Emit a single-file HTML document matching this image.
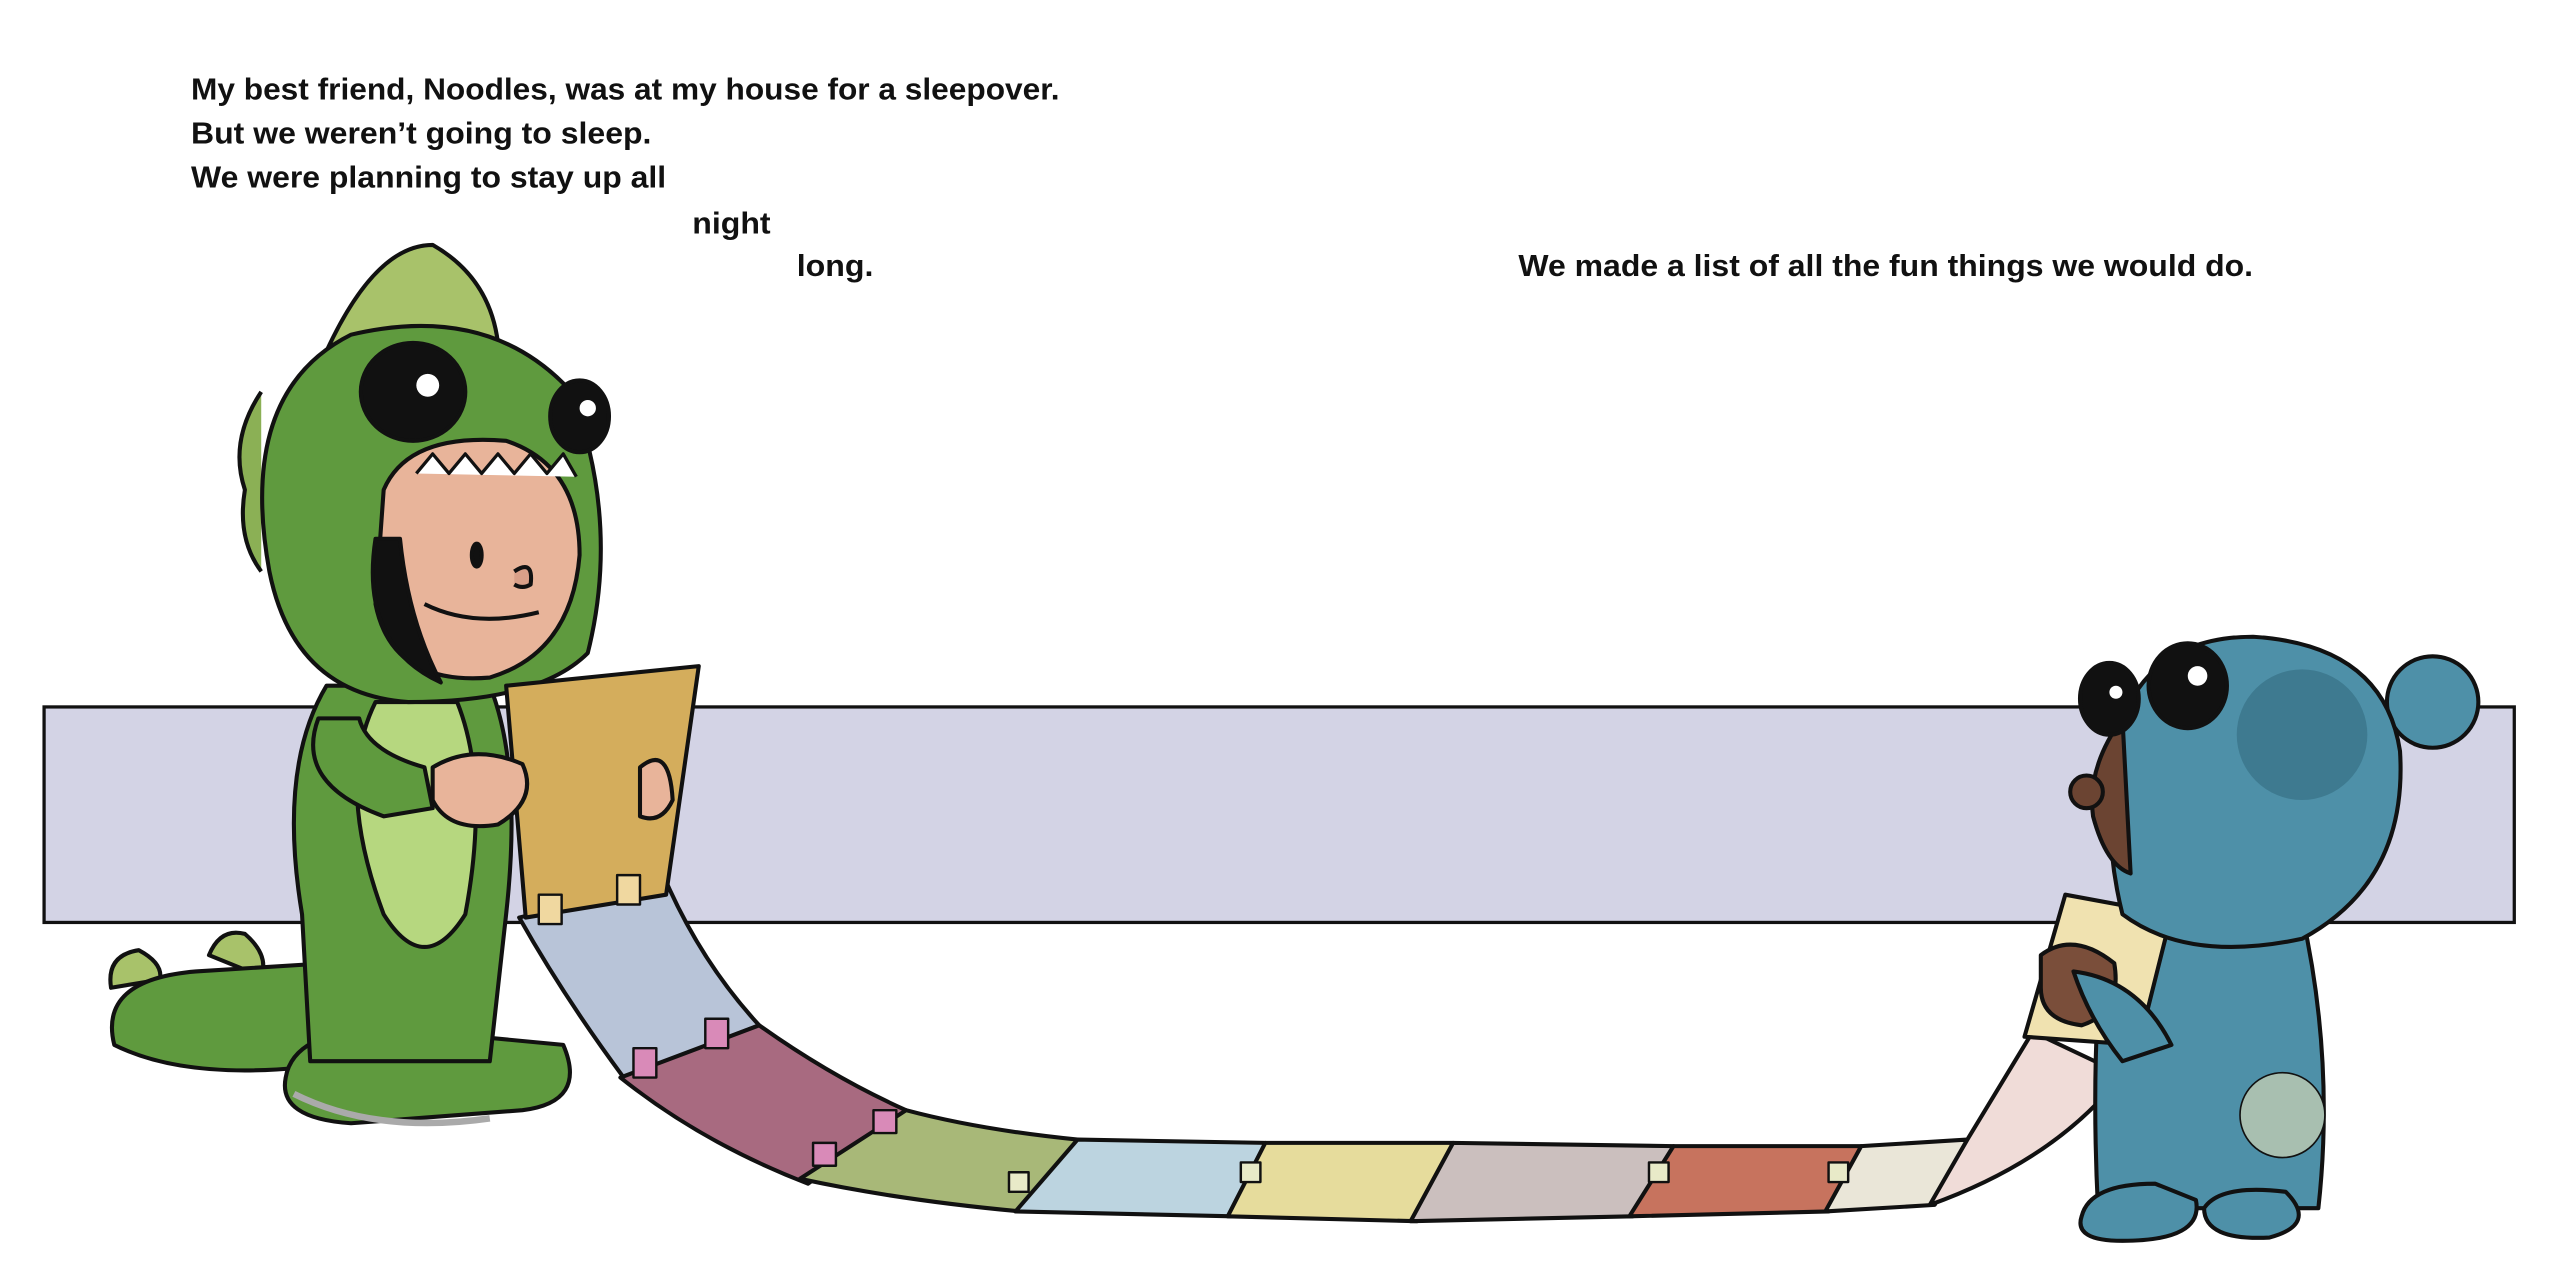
<!DOCTYPE html>
<html><head><meta charset="utf-8"><style>
html,body{margin:0;padding:0;background:#fff;width:2560px;height:1280px;overflow:hidden}
svg{display:block}
text{font-family:"Liberation Sans",sans-serif;font-weight:bold;font-size:18.5px;fill:#111}
</style></head><body>
<svg width="2560" height="1280" viewBox="0 0 1568 784" xmlns="http://www.w3.org/2000/svg">
<rect x="27" y="433" width="1513" height="132" fill="#d3d3e5" stroke="#111" stroke-width="2"/>
<text x="117" y="61" textLength="532" lengthAdjust="spacingAndGlyphs">My best friend, Noodles, was at my house for a sleepover.</text>
<text x="117" y="88" textLength="282" lengthAdjust="spacingAndGlyphs">But we weren’t going to sleep.</text>
<text x="117" y="115" textLength="291" lengthAdjust="spacingAndGlyphs">We were planning to stay up all</text>
<text x="424" y="143" textLength="48" lengthAdjust="spacingAndGlyphs">night</text>
<text x="488" y="169" textLength="47" lengthAdjust="spacingAndGlyphs">long.</text>
<text x="930" y="169" textLength="450" lengthAdjust="spacingAndGlyphs">We made a list of all the fun things we would do.</text>
<g stroke="#111" stroke-width="2.5" stroke-linejoin="round">
<!-- dino tail & feet -->
<path d="M68,605 Q65,585 85,582 Q100,590 98,600Z M128,585 Q135,568 150,572 Q165,585 160,598Z" fill="#a8c26a"/>
<path d="M70,640 Q60,600 120,595 L200,590 L215,650 Q120,665 70,640Z" fill="#5f9a3e"/>
<path d="M175,660 Q180,630 240,630 L345,640 Q360,675 320,680 L215,688 Q170,685 175,660Z" fill="#5f9a3e"/>
<path d="M180,670 Q230,695 300,685" fill="none" stroke="#aaa" stroke-width="4"/>
<!-- body -->
<path d="M200,420 Q170,470 185,560 L190,650 L300,650 L310,560 Q320,470 300,420Z" fill="#5f9a3e"/>
<path d="M230,430 Q205,480 235,560 Q260,600 285,560 Q300,480 280,430Z" fill="#b6d77f"/>
<path d="M195,440 Q180,480 235,500 L265,495 L260,470 Q225,460 220,440Z" fill="#5f9a3e"/>
<!-- head hood -->
<path d="M200,215 Q230,150 265,150 Q300,170 305,210Z" fill="#a8c26a"/>
<path d="M160,240 Q140,270 150,300 Q145,330 160,350" fill="#8bb055"/>
<path d="M165,350 Q145,240 215,205 Q300,185 350,240 Q380,320 360,400 Q330,430 250,430 Q180,425 165,350Z" fill="#5f9a3e"/>
<path d="M235,300 Q250,265 310,270 Q355,285 355,340 Q350,400 300,415 Q240,420 230,370Z" fill="#e8b49a"/>
<path d="M230,330 Q220,395 270,418 Q250,380 245,330Z" fill="#111"/>
<path d="M255,290 l10,-12 10,12 10,-12 10,12 10,-12 10,12 10,-12 10,12 10,-12 8,14" fill="#fff" stroke-width="2"/>
<ellipse cx="253" cy="240" rx="32" ry="30" fill="#111"/>
<ellipse cx="355" cy="255" rx="18" ry="22" fill="#111"/>
<circle cx="262" cy="236" r="7" fill="#fff" stroke="none"/>
<circle cx="360" cy="250" r="5" fill="#fff" stroke="none"/>
<path d="M260,370 Q290,385 330,375" fill="none"/>
<ellipse cx="292" cy="340" rx="3" ry="7" fill="#111"/>
<path d="M315,350 q12,-8 10,8 q-5,3 -10,0" fill="#d9a089"/>
<!-- paper chain -->
<path d="M318,562 L408,540 Q430,590 465,628 L382,660 Q345,610 318,562Z" fill="#b8c4d8"/>
<path d="M380,660 L465,628 Q510,660 555,680 L495,725 Q430,700 380,660Z" fill="#a86a80"/>
<path d="M490,722 L555,680 Q600,692 660,698 L625,742 Q550,735 490,722Z" fill="#a8b878"/>
<path d="M622,742 L660,698 L775,700 L755,745Z" fill="#bcd4e0"/>
<path d="M752,745 L775,700 L890,700 L868,748Z" fill="#e6dc9c"/>
<path d="M864,748 L890,700 L1025,702 L1000,745Z" fill="#cbbfbe"/>
<path d="M998,745 L1025,702 L1140,702 L1120,742Z" fill="#c7735e"/>
<path d="M1118,742 L1140,702 L1205,698 L1185,738Z" fill="#eae6d8"/>
<path d="M1182,738 L1205,698 L1245,632 L1300,658 Q1260,710 1182,738Z" fill="#f0dcd8"/>
<path d="M310,420 L428,408 L408,548 L322,562Z" fill="#d4ad5c"/>
<g stroke-width="1.5" fill="#f0d8a0">
<rect x="330" y="548" width="14" height="18"/><rect x="378" y="536" width="14" height="18"/>
<rect x="388" y="642" width="14" height="18" fill="#d98ab8"/><rect x="432" y="624" width="14" height="18" fill="#d98ab8"/>
<rect x="498" y="700" width="14" height="14" fill="#d98ab8"/><rect x="535" y="680" width="14" height="14" fill="#d98ab8"/>
<rect x="618" y="718" width="12" height="12" fill="#e8eac8"/><rect x="760" y="712" width="12" height="12" fill="#e8eac8"/>
<rect x="1010" y="712" width="12" height="12" fill="#e8eac8"/><rect x="1120" y="712" width="12" height="12" fill="#e8eac8"/>
</g>
<!-- dino hands -->
<path d="M265,470 Q290,455 320,468 Q330,490 305,505 Q275,510 265,490Z" fill="#e8b49a"/>
<path d="M392,470 Q410,455 412,490 Q405,505 392,500Z" fill="#e8b49a"/>
<!-- bear -->
<path d="M1290,560 Q1280,640 1285,740 L1420,740 Q1430,650 1410,560Z" fill="#4e90a8"/>
<path d="M1275,745 Q1280,725 1320,725 L1345,735 Q1350,760 1300,760 Q1270,760 1275,745Z" fill="#4e90a8"/>
<path d="M1350,740 Q1360,725 1400,730 Q1420,750 1390,758 Q1350,760 1350,740Z" fill="#4e90a8"/>
<circle cx="1398" cy="683" r="26" fill="#a8bfb0" stroke-width="1"/>
<path d="M1265,548 L1330,560 L1310,640 L1240,635Z" fill="#f0e2b0"/>
<path d="M1250,585 Q1270,570 1295,590 Q1300,620 1275,628 Q1250,625 1250,605Z" fill="#7a4e3a"/>
<path d="M1270,595 Q1310,600 1330,640 L1300,650 Q1280,625 1270,595Z" fill="#4e90a8"/>
<circle cx="1490" cy="430" r="28" fill="#4e90a8"/>
<path d="M1300,440 Q1320,390 1380,390 Q1460,395 1470,460 Q1475,540 1410,575 Q1340,590 1300,560 Q1285,500 1300,440Z" fill="#4e90a8"/>
<circle cx="1410" cy="450" r="40" fill="#3e7a90" stroke="none"/>
<path d="M1300,440 Q1278,470 1282,500 Q1290,530 1305,535Z" fill="#6b4432"/>
<circle cx="1278" cy="485" r="10" fill="#6b4432"/>
<ellipse cx="1292" cy="428" rx="18" ry="22" fill="#111"/>
<ellipse cx="1340" cy="420" rx="24" ry="26" fill="#111"/>
<circle cx="1346" cy="414" r="6" fill="#fff" stroke="none"/>
<circle cx="1296" cy="424" r="4" fill="#fff" stroke="none"/>
</g>
</svg>
</body></html>
